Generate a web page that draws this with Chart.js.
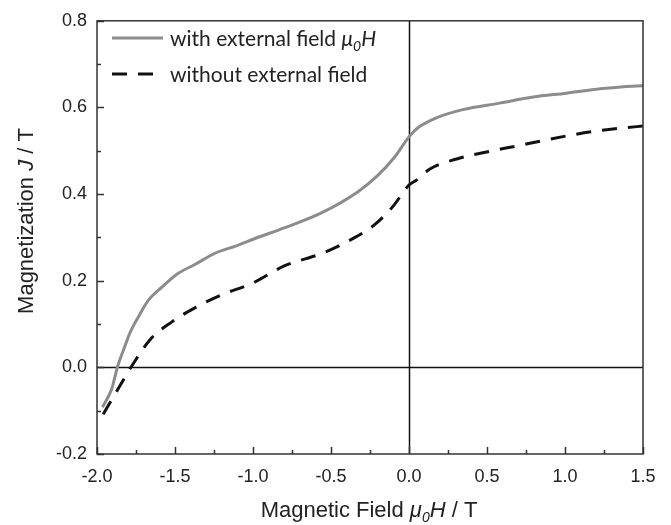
<!DOCTYPE html>
<html>
<head>
<meta charset="utf-8">
<script src="https://cdn.jsdelivr.net/npm/chart.js@4.4.1/dist/chart.umd.min.js"></script>
<style>
html, body { margin: 0; padding: 0; background: #fff; }
</style>
</head>
<body>
<canvas id="mainChart" width="671" height="525"></canvas>
<script>
// ========== 데이터 ==========
// 외부 자기장 있음 (회색 실선)
const fieldWith = [-1.965, -1.906, -1.867, -1.83, -1.788, -1.734, -1.67, -1.584, -1.488, -1.37, -1.24, -1.112, -0.983, -0.80, -0.565, -0.329, -0.20, -0.093, 0.0, 0.057, 0.175, 0.345, 0.58, 0.795, 1.01, 1.225, 1.375, 1.5];
const jWith = [-0.092, -0.05, 0.003, 0.04, 0.08, 0.117, 0.155, 0.185, 0.215, 0.238, 0.264, 0.28, 0.298, 0.322, 0.356, 0.405, 0.443, 0.485, 0.532, 0.553, 0.576, 0.595, 0.610, 0.624, 0.633, 0.643, 0.648, 0.650];

// 외부 자기장 없음 (검정 점선)
const fieldWithout = [-1.96, -1.852, -1.777, -1.66, -1.52, -1.37, -1.198, -1.005, -0.80, -0.544, -0.372, -0.232, -0.104, 0.0, 0.047, 0.134, 0.305, 0.52, 0.69, 0.865, 1.037, 1.21, 1.38, 1.5];
const jWithout = [-0.108, -0.042, 0.003, 0.064, 0.105, 0.138, 0.168, 0.194, 0.234, 0.265, 0.295, 0.326, 0.371, 0.421, 0.432, 0.458, 0.481, 0.499, 0.511, 0.524, 0.536, 0.546, 0.553, 0.557];

// 축 범위 / 눈금
const xRange = [-2.0, 1.5];
const yRange = [-0.2, 0.8];
const xMajorStep = 0.5;
const yMajorStep = 0.2;

const axisFont = '"Liberation Sans", Arial, sans-serif';
const legendFont = 'Lato, "Noto Sans", sans-serif';

function toPoints(xs, ys) {
    const pts = [];
    for (let i = 0; i < xs.length; i++) {
        pts.push({ x: xs[i], y: ys[i] });
    }
    return pts;
}

// 여러 스타일이 섞인 텍스트 그리기 (이탤릭, 아래첨자)
function drawRich(ctx, parts, x, y, size, family, align) {
    let total = 0;
    for (const p of parts) {
        ctx.font = (p.italic ? 'italic ' : '') + Math.round(p.sub ? size * 0.65 : size) + 'px ' + family;
        p.w = ctx.measureText(p.t).width;
        total += p.w;
    }
    let cx = align === 'center' ? x - total / 2 : x;
    ctx.textAlign = 'left';
    ctx.textBaseline = 'alphabetic';
    for (const p of parts) {
        ctx.font = (p.italic ? 'italic ' : '') + Math.round(p.sub ? size * 0.65 : size) + 'px ' + family;
        ctx.fillText(p.t, cx, p.sub ? y + size * 0.22 : y);
        cx += p.w;
    }
}

// 프레임, 안쪽 눈금, 0선, 축 제목, 범례
const decorPlugin = {
    id: 'decor',
    beforeDatasetsDraw(chart) {
        const ctx = chart.ctx;
        const xs = chart.scales.x;
        const ys = chart.scales.y;
        const a = chart.chartArea;
        ctx.save();
        ctx.strokeStyle = '#111';
        ctx.lineWidth = 1.5;
        ctx.beginPath();
        const x0 = Math.round(xs.getPixelForValue(0)) + 0.5;
        ctx.moveTo(x0, a.top);
        ctx.lineTo(x0, a.bottom);
        const y0 = Math.round(ys.getPixelForValue(0)) + 0.5;
        ctx.moveTo(a.left, y0);
        ctx.lineTo(a.right, y0);
        ctx.stroke();
        ctx.restore();
    },
    afterDraw(chart) {
        const ctx = chart.ctx;
        const xs = chart.scales.x;
        const ys = chart.scales.y;
        const a = chart.chartArea;
        ctx.save();
        ctx.strokeStyle = '#333';
        ctx.lineWidth = 1.5;
        ctx.strokeRect(a.left, a.top, a.right - a.left, a.bottom - a.top);

        // 눈금 (안쪽)
        ctx.beginPath();
        for (let i = 0; i <= 14; i++) {
            const v = xRange[0] + i * 0.25;
            const px = Math.round(xs.getPixelForValue(v)) + 0.5;
            const len = (i % 2 === 0) ? 7 : 4;
            ctx.moveTo(px, a.bottom);
            ctx.lineTo(px, a.bottom - len);
        }
        for (let i = 0; i <= 10; i++) {
            const v = yRange[0] + i * 0.1;
            const py = Math.round(ys.getPixelForValue(v)) + 0.5;
            const len = (i % 2 === 0) ? 7 : 4;
            ctx.moveTo(a.left, py);
            ctx.lineTo(a.left + len, py);
        }
        ctx.stroke();

        // 축 제목
        ctx.fillStyle = '#222';
        drawRich(ctx, [
            { t: 'Magnetic Field ' },
            { t: 'μ', italic: true },
            { t: '0', italic: true, sub: true },
            { t: 'H', italic: true },
            { t: ' / T' }
        ], 369, 517, 22, axisFont, 'center');

        ctx.save();
        ctx.translate(33, 221);
        ctx.rotate(-Math.PI / 2);
        drawRich(ctx, [
            { t: 'Magnetization ' },
            { t: 'J', italic: true },
            { t: ' / T' }
        ], 0, 0, 22, axisFont, 'center');
        ctx.restore();

        // 범례
        ctx.lineWidth = 3;
        ctx.strokeStyle = '#8c8c8c';
        ctx.beginPath();
        ctx.moveTo(112, 38);
        ctx.lineTo(163, 38);
        ctx.stroke();
        ctx.strokeStyle = '#111';
        ctx.setLineDash([15, 11]);
        ctx.beginPath();
        ctx.moveTo(112, 74);
        ctx.lineTo(156, 74);
        ctx.stroke();
        ctx.setLineDash([]);

        drawRich(ctx, [
            { t: 'with external field ' },
            { t: 'μ', italic: true },
            { t: '0', italic: true, sub: true },
            { t: 'H', italic: true }
        ], 170, 46, 21, legendFont, 'left');
        drawRich(ctx, [{ t: 'without external field' }], 170, 82, 21, legendFont, 'left');
        ctx.restore();
    }
};

function fmt(v) {
    if (Math.abs(v) < 1e-9) return '0.0';
    return v.toFixed(1);
}

const ctx = document.getElementById('mainChart');
new Chart(ctx, {
    type: 'scatter',
    data: {
        datasets: [
            {
                label: 'with external field',
                data: toPoints(fieldWith, jWith),
                showLine: true,
                borderColor: '#8c8c8c',
                borderWidth: 3,
                pointRadius: 0,
                cubicInterpolationMode: 'monotone'
            },
            {
                label: 'without external field',
                data: toPoints(fieldWithout, jWithout),
                showLine: true,
                borderColor: '#111',
                borderWidth: 3,
                borderDash: [15, 11],
                pointRadius: 0,
                cubicInterpolationMode: 'monotone'
            }
        ]
    },
    options: {
        responsive: false,
        animation: false,
        devicePixelRatio: 1,
        layout: { padding: { left: 0, top: 15, right: 28, bottom: 0 } },
        plugins: {
            legend: { display: false },
            tooltip: { enabled: false }
        },
        scales: {
            x: {
                type: 'linear',
                min: xRange[0],
                max: xRange[1],
                grid: { display: false, drawTicks: false },
                border: { display: false },
                ticks: {
                    stepSize: xMajorStep,
                    padding: 12,
                    color: '#222',
                    font: { family: axisFont, size: 18 },
                    maxRotation: 0,
                    callback: fmt
                },
                afterFit(scale) { scale.height = 71; }
            },
            y: {
                type: 'linear',
                min: yRange[0],
                max: yRange[1],
                grid: { display: false, drawTicks: false },
                border: { display: false },
                ticks: {
                    stepSize: yMajorStep,
                    padding: 10,
                    color: '#222',
                    font: { family: axisFont, size: 18 },
                    callback: fmt
                },
                afterFit(scale) { scale.width = 97; }
            }
        }
    },
    plugins: [decorPlugin]
});
</script>
</body>
</html>
